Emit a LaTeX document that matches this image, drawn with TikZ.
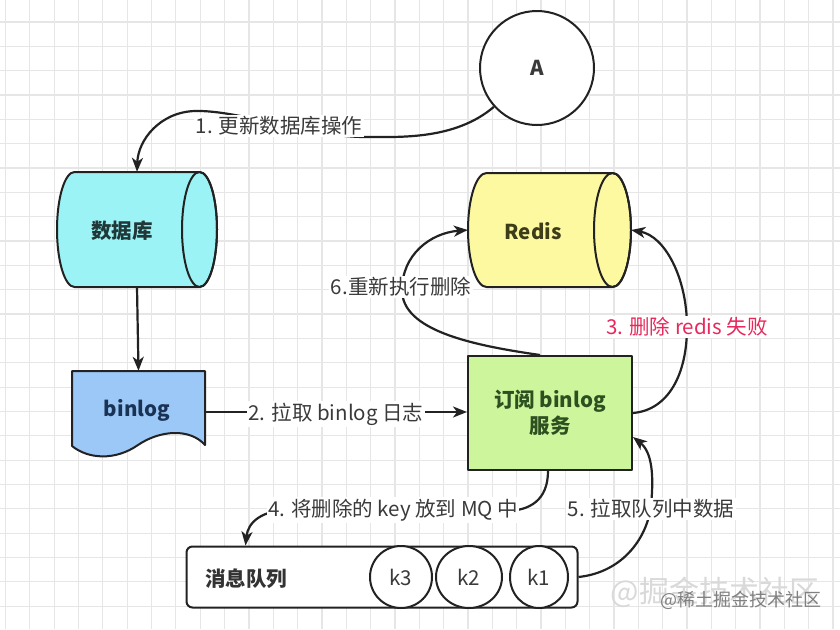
\documentclass[tikz,border=0pt]{standalone}
\usepackage{fontspec}
\setmainfont{Noto Sans CJK SC}
\usetikzlibrary{arrows.meta,calc,shapes.geometric}
\definecolor{gridc}{HTML}{E6E6E6}
\definecolor{linec}{HTML}{222222}
\definecolor{labelc}{HTML}{3A3A3A}
\definecolor{redc}{HTML}{E8285A}
\definecolor{dbc}{HTML}{9CF3F5}
\definecolor{redisc}{HTML}{FDF9A0}
\definecolor{binc}{HTML}{9CC8F8}
\definecolor{boxc}{HTML}{CDF59C}
\definecolor{dbtc}{HTML}{203838}
\definecolor{redistc}{HTML}{3D3D1A}
\definecolor{bintc}{HTML}{1A3355}
\definecolor{boxtc}{HTML}{2D5020}
\definecolor{qtc}{HTML}{333333}
\definecolor{wm1c}{HTML}{D9D9D9}
\definecolor{wm2c}{HTML}{808080}
\begin{document}
\begin{tikzpicture}[x=1pt,y=-1pt,line join=round,
  conn/.style={draw=linec,line width=2.2pt,-{Stealth[length=14pt,width=11pt,inset=4pt]}},
  lbl/.style={fill=white,inner sep=1.5pt,text=labelc,font=\fontsize{20.5}{24}\selectfont},
  shapeline/.style={draw=linec,line width=2pt},
  holder/.style={draw=none,inner sep=0pt},
  ntext/.style={font=\fontsize{20.5}{26}\selectfont\bfseries}
]
\useasboundingbox (0,0) rectangle (840,629);
\fill[white] (0,0) rectangle (840,629);
% grid
\foreach \i in {0,...,34} \draw[gridc,line width=1.2pt] ({5.5+24.34*\i},0) -- ({5.5+24.34*\i},629);
\foreach \j in {0,...,25} \draw[gridc,line width=1.2pt] (0,{22+24.34*\j}) -- (840,{22+24.34*\j});

% circle A
\node[circle,shapeline,fill=white,minimum size=114pt,inner sep=0pt,font=\fontsize{20.5}{24}\selectfont\bfseries,text=labelc] (a) at (537,68) {A};

% database cylinder
\path[shapeline,fill=dbc] (74.5,172) -- (199.5,172) arc[start angle=-90,end angle=90,x radius=17.5,y radius=57.5] -- (74.5,287) arc[start angle=90,end angle=270,x radius=17.5,y radius=57.5] -- cycle;
\draw[shapeline] (199.5,229.5) ellipse[x radius=17.5,y radius=57.5];
\node[holder,minimum width=160pt,minimum height=115pt] (db) at (137,229.5) {};
\node[ntext,text=dbtc] (dbt) at (122,231) {数据库};

% redis cylinder
\path[shapeline,fill=redisc] (486.5,173) -- (612.5,173) arc[start angle=-90,end angle=90,x radius=18.5,y radius=57] -- (486.5,287) arc[start angle=90,end angle=270,x radius=18.5,y radius=57] -- cycle;
\draw[shapeline] (612.5,230) ellipse[x radius=18.5,y radius=57];
\node[holder,minimum width=163pt,minimum height=114pt] (redis) at (549.5,230) {};
\node[ntext,text=redistc] (redist) at (533,231) {Redis};

% binlog document
\path[shapeline,fill=binc] (72,371) -- (205,371) -- (205,445) .. controls (190,428) and (160,430) .. (138,445) .. controls (115,461) and (88,459) .. (72,446) -- cycle;
\node[holder,minimum width=133pt,minimum height=82pt] (binlog) at (138.5,412) {};
\node[ntext,text=bintc] (bint) at (137,410) {binlog};

% subscribe box
\node[shapeline,fill=boxc,minimum width=164pt,minimum height=114pt,inner sep=0pt,align=center,ntext,text=boxtc] (box) at (550,413) {订阅 binlog\\服务};

% queue
\node[shapeline,rounded corners=6pt,fill=white,minimum width=391pt,minimum height=61pt,inner sep=0pt] (queue) at (382,577) {};
\node[ntext,text=qtc] (qt) at (246,579) {消息队列};
\node[ellipse,shapeline,fill=white,minimum width=62pt,minimum height=62pt,inner sep=0pt,text=labelc,font=\fontsize{20.5}{24}\selectfont] (k3) at (401,577) {k3};
\node[ellipse,shapeline,fill=white,minimum width=66pt,minimum height=62pt,inner sep=0pt,text=labelc,font=\fontsize{20.5}{24}\selectfont] (k2) at (469,577) {k2};
\node[ellipse,shapeline,fill=white,minimum width=58pt,minimum height=62pt,inner sep=0pt,text=labelc,font=\fontsize{20.5}{24}\selectfont] (k1) at (539,577) {k1};

% connectors
\draw[conn] (a.222) .. controls (455,140) and (400,137) .. (365,137) .. controls (310,137) and (240,110) .. (195,111) .. controls (160,112) and (138,140) .. (db.north);
\node[lbl] (l1) at (279,126) {1. 更新数据库操作};

\draw[conn] (db.south) -- (binlog.north);

\draw[conn] (binlog.east) -- (binlog.east -| box.west);
\node[lbl] (l2) at (336,414) {2. 拉取 binlog 日志};

\draw[conn] (box.east) .. controls (668,410) and (687,375) .. (687,327) .. controls (687,278) and (665,236) .. (redis.east);
\node[lbl,text=redc] (l3) at (687,327) {3. 删除 redis 失败};

\draw[conn] ($(box.south)+(-2,0)$) .. controls (548,500) and (530,511) .. (505,511) -- (290,510) .. controls (262,510) and (248,522) .. ($(queue.north west)+(60,0)$);
\node[lbl] (l4) at (393,510) {4. 将删除的 key 放到 MQ 中};

\draw[conn] (queue.east) .. controls (625,572) and (648,535) .. (651,505) .. controls (654,475) and (652,452) .. ($(box.east)+(0,24)$);
\node[lbl] (l5) at (651,509) {5. 拉取队列中数据};

\draw[conn] ($(box.north)+(-10,0)$) .. controls (470,345) and (402,330) .. (402,290) .. controls (402,255) and (430,233) .. (redis.west);
\node[lbl] (l6) at (401,287) {6.重新执行删除};

% watermark
\node[font=\fontsize{30}{34}\selectfont,text=wm1c] (wm1) at (715,592) {@掘金技术社区};
\node[font=\fontsize{18}{22}\selectfont,text=wm2c] (wm2) at (741,600) {@稀土掘金技术社区};
\end{tikzpicture}
\end{document}
